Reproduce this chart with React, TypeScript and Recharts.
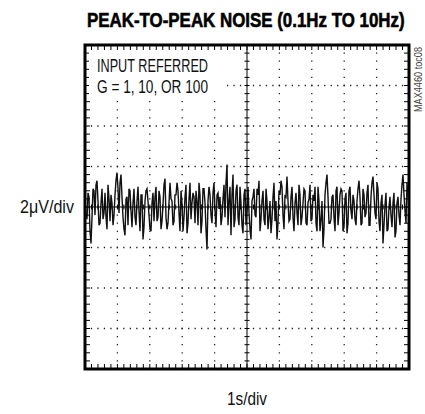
import { ComposedChart, Line, Scatter, XAxis, YAxis, ReferenceLine, ReferenceArea } from "recharts";

const TITLE = "PEAK-TO-PEAK NOISE (0.1Hz TO 10Hz)";
const NOTE_LINES = ["INPUT REFERRED", "G = 1, 10, OR 100"];
const Y_LABEL = "2μV/div";
const X_LABEL = "1s/div";
const TOC = "MAX4460 toc08";

// 1s/div horizontally, 2μV/div vertically, centred on 0
const X_DOMAIN = [0, 10];
const Y_DOMAIN = [-8, 8];
const X_GRID = [1, 2, 3, 4, 6, 7, 8, 9];
const Y_GRID = [-6, -4, -2, 2, 4, 6];
const X_MINOR = Array.from({ length: 51 }, (_, i) => +(i * 0.2).toFixed(1));
const Y_MINOR = Array.from({ length: 41 }, (_, i) => +(-8 + i * 0.4).toFixed(1));

const NOISE_UV = [
  0.3, -0.6, 0.5, -1.8, 0.9, -0.4, 1.3, -0.9, 0.2, -0.6,
  0.7, -1.1, 0.4, 0.6, -0.9, 0.6, 1.7, -0.3, 1.6, -0.5,
  -1.4, 0.5, 0.9, -0.2, 0.2, -0.5, 0.3, -0.2, 0.6, -1.6,
  0.3, 0.9, -0.4, -1.2, 0.7, 0.5, -0.7, 0.8, -1.1, 0.1,
  1.4, -1.1, 0.2, 0.4, -0.9, 0.6, 1.2, -0.3, 0.8, -1.2,
  0.5, -1.3, 0.4, -0.6, 0.7, -0.8, 0.3, 1.2, -1.3, 0.9,
  0.2, -2.1, 1.0, -0.4, 0.7, -0.2, 0.6, -0.1, -0.9, 0.4,
  -0.5, 2.1, 0.3, -1.4, 1.6, -0.6, 1.1, -0.9, 0.2, -1.3,
  0.9, -0.2, -0.3, -1.6, 0.5, -0.4, 0.9, 1.3, -0.6, 0.8,
  -0.9, 0.3, -0.5, -1.3, 0.5, -0.7, -1.6, 0.8, 1.3, -0.4,
  0.6, 1.5, -0.7, 0.5, -0.5, 0.2, -0.3, 1.1, -0.9, 0.2,
  0.8, -0.9, 0.4, -0.7, 0.6, 1.0, -1.2, 0.3, -0.6, -2.0,
  0.6, 1.6, -0.8, -0.6, 0.6, -1.2, 1.0, -0.3, 0.9, -1.2,
  0.4, -1.3, 0.8, -0.2, 0.6, -0.6, 0.3, 1.3, -0.9, 0.9,
  -0.5, 0.7, -0.9, 0.5, 1.5, -0.3, 1.2, -0.7, 0.2, -1.8,
  0.1, -1.2, 0.0, -0.4, 0.2, -1.5, 0.2, -0.4, 0.4, 1.6,
  -0.2, 1.2, -0.3,
];

// the faster wiggles between those readings
const NOISE_UV_MID = [
  -0.4, 0.7, -1.2, -0.5, 0.8, 1.1, 0.3, -0.8, 0.9, -0.3,
  -0.5, 1.1, -0.7, 0.2, -0.4, 1.3, 0.9, 1.2, 0.5, -1.1,
  0.4, -0.9, 0.8, -1.0, 0.9, -0.9, 1.0, -1.2, 0.6, -1.0,
  0.8, 0.3, -1.1, 0.2, -0.7, 1.0, -0.5, 0.5, -0.7, 1.1,
  -0.5, -0.8, 1.2, 0.3, -0.7, 0.6, 0.8, -1.2, 0.2, -0.5,
  1.1, -0.8, 1.2, 0.2, 0.5, 0.8, -0.9, 0.6, -0.7, 0.9,
  -1.1, 0.3, 0.6, -0.8, 1.2, -1.0, 0.7, 0.5, -0.5, 1.1,
  1.2, -0.9, 1.0, 0.6, -1.0, 0.8, -0.5, 1.0, -0.9, 0.6,
  -0.9, 1.0, -1.1, 0.3, 0.9, -0.5, 0.6, -1.2, 0.3, -0.6,
  0.9, -1.1, 0.3, -0.6, 1.2, 0.3, -0.8, 0.6, 1.0, -1.1,
  0.5, 0.3, -0.6, 1.0, -1.2, 0.7, -0.9, 0.6, -0.5, 0.9,
  -0.8, 0.2, 1.1, -0.6, 0.3, -0.8, 1.0, -1.2, 0.3, -1.1,
  1.2, 0.5, -0.8, 0.5, -0.5, 0.8, -0.9, 0.6, 0.8, -1.0,
  0.7, -0.8, 1.0, -0.6, 0.3, -0.9, 0.9, 0.5, -0.8, 0.6,
  -0.3, 1.1, -0.9, 1.2, 0.6, -0.6, 0.9, -1.2, 0.6, -0.9,
  0.7, -1.1, 0.5, -1.0, 0.7, -1.2, 0.5, -0.9, 1.1, 0.6,
  -0.8, 0.7,
];

const FONT = "'Liberation Sans', Arial, sans-serif";
const IDS = { xAxisId: "x", yAxisId: "y" };

const vTick = (len: number) => (p: any) => (
  <line x1={p.cx} x2={p.cx} y1={p.cy} y2={p.cy + len} stroke="#000" strokeWidth={1} />
);
const hTick = (len: number) => (p: any) => (
  <line x1={p.cx} x2={p.cx + len} y1={p.cy} y2={p.cy} stroke="#000" strokeWidth={1} />
);
const vCross = (p: any) => <line x1={p.cx} x2={p.cx} y1={p.cy - 2.5} y2={p.cy + 2.5} stroke="#000" strokeWidth={1} />;
const hCross = (p: any) => <line x1={p.cx - 2.5} x2={p.cx + 2.5} y1={p.cy} y2={p.cy} stroke="#000" strokeWidth={1} />;

export default function App() {
  const samples: number[] = [];
  NOISE_UV.forEach((v, i) => {
    samples.push(v);
    if (i < NOISE_UV_MID.length) samples.push(NOISE_UV_MID[i]);
  });
  const data = samples.map((v, i) => ({ t: (i * X_DOMAIN[1]) / (samples.length - 1), v }));

  const bottomTicks = X_MINOR.map((t) => ({ t, v: Y_DOMAIN[0] }));
  const topTicks = X_MINOR.map((t) => ({ t, v: Y_DOMAIN[1] }));
  const leftTicks = Y_MINOR.map((v) => ({ t: X_DOMAIN[0], v }));
  const rightTicks = Y_MINOR.map((v) => ({ t: X_DOMAIN[1], v }));
  const hCenterTicks = X_MINOR.map((t) => ({ t, v: 0 }));
  const vCenterTicks = Y_MINOR.map((v) => ({ t: 5, v }));

  const tickSeries: [any[], any][] = [
    [bottomTicks, vTick(-5)],
    [topTicks, vTick(5)],
    [leftTicks, hTick(5)],
    [rightTicks, hTick(-5)],
    [hCenterTicks, vCross],
    [vCenterTicks, hCross],
  ];

  return (
    <div style={{ position: "absolute", left: 0, top: 0, width: 425, height: 414, background: "#fff" }}>
      <ComposedChart width={425} height={414} margin={{ top: 45, right: 16, bottom: 45, left: 85 }}>
        <XAxis {...{ xAxisId: "x" }} dataKey="t" type="number" domain={X_DOMAIN} hide allowDataOverflow />
        <YAxis {...{ yAxisId: "y" }} dataKey="v" type="number" domain={Y_DOMAIN} hide allowDataOverflow />
        {Y_GRID.map((y) => (
          <ReferenceLine
            key={"y" + y}
            y={y}
            {...IDS}
            stroke="#222"
            strokeWidth={1.3}
            strokeDasharray="1.3 5.18"
            strokeDashoffset={0.65}
          />
        ))}
        {X_GRID.map((x) => (
          <ReferenceLine
            key={"x" + x}
            x={x}
            {...IDS}
            stroke="#222"
            strokeWidth={1.3}
            strokeDasharray="1.3 6.8"
            strokeDashoffset={0.65}
          />
        ))}
        <ReferenceLine y={0} {...IDS} stroke="#000" strokeWidth={1} />
        <ReferenceLine x={5} {...IDS} stroke="#000" strokeWidth={1} />
        {tickSeries.map(([pts, shape], k) => (
          <Scatter key={k} data={pts} dataKey="v" {...IDS} isAnimationActive={false} shape={shape} />
        ))}
        <Line
          data={data}
          dataKey="v"
          {...IDS}
          type="linear"
          stroke="#111"
          strokeWidth={1.4}
          dot={false}
          activeDot={false}
          isAnimationActive={false}
        />
        <ReferenceArea
          x1={X_DOMAIN[0]}
          x2={X_DOMAIN[1]}
          y1={Y_DOMAIN[0]}
          y2={Y_DOMAIN[1]}
          {...IDS}
          fill="none"
          fillOpacity={0}
          stroke="#000"
          strokeWidth={3}
        />
      </ComposedChart>
      <svg width={425} height={414} style={{ position: "absolute", left: 0, top: 0, pointerEvents: "none" }}>
        <text
          transform="translate(87,27) scale(0.8,1)"
          fontFamily={FONT}
          fontWeight="bold"
          fontSize={20}
          textLength={397}
          lengthAdjust="spacingAndGlyphs"
          fill="#000"
          stroke="#000"
          strokeWidth={0.6}
        >
          {TITLE}
        </text>
        <rect x={89} y={51} width={133} height={46} fill="#fff" />
        <text x={97} y={72} fontFamily={FONT} fontSize={18} textLength={111} lengthAdjust="spacingAndGlyphs" fill="#111">
          {NOTE_LINES[0]}
        </text>
        <text x={97} y={93} fontFamily={FONT} fontSize={18} textLength={111} lengthAdjust="spacingAndGlyphs" fill="#111">
          {NOTE_LINES[1]}
        </text>
        <text x={20} y={213} fontFamily={FONT} fontSize={18} textLength={54} lengthAdjust="spacingAndGlyphs" fill="#111">
          {Y_LABEL}
        </text>
        <text x={227} y={405} fontFamily={FONT} fontSize={18} textLength={40} lengthAdjust="spacingAndGlyphs" fill="#111">
          {X_LABEL}
        </text>
        <text
          transform="translate(422,112) rotate(-90)"
          fontFamily={FONT}
          fontSize={10}
          textLength={65}
          lengthAdjust="spacingAndGlyphs"
          fill="#444"
        >
          {TOC}
        </text>
      </svg>
    </div>
  );
}
